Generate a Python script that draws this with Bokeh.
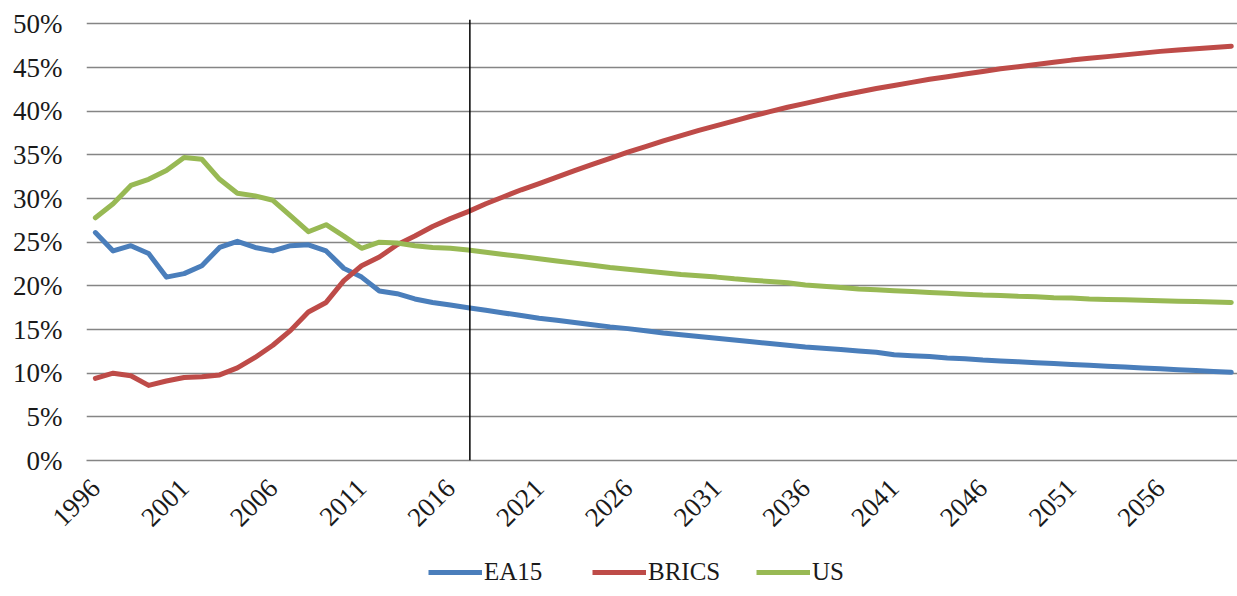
from bokeh.plotting import figure
from bokeh.models import Range1d, FixedTicker, Span, Legend, LegendItem
from bokeh.layouts import column
from bokeh.embed import file_html
from bokeh.resources import INLINE

years = list(range(1996, 2061))

ea15 = [26.1, 24.0, 24.6, 23.7, 21.0, 21.4, 22.3, 24.4, 25.1, 24.4, 24.0, 24.6, 24.7, 24.0, 22.0, 21.0,
        19.4, 19.1, 18.5, 18.1, 17.8,
        17.5, 17.2, 16.9, 16.6, 16.3, 16.05, 15.8, 15.55, 15.3, 15.1, 14.85, 14.6, 14.4, 14.2, 14.0,
        13.8, 13.6, 13.4, 13.2, 13.0, 12.85, 12.7, 12.55, 12.4, 12.1, 12.0, 11.9, 11.75, 11.65, 11.5,
        11.4, 11.3, 11.2, 11.1, 11.0, 10.9, 10.8, 10.7, 10.6, 10.5, 10.4, 10.3, 10.2, 10.1]

brics = [9.4, 10.0, 9.7, 8.6, 9.1, 9.5, 9.6, 9.8, 10.6, 11.8, 13.2, 14.9, 17.0, 18.1, 20.6, 22.3,
         23.3, 24.7, 25.7, 26.8, 27.7,
         28.5, 29.4, 30.2, 31.0, 31.7, 32.45, 33.2, 33.9, 34.6, 35.3, 35.95, 36.6, 37.2, 37.8, 38.35,
         38.9, 39.45, 39.95, 40.45, 40.9, 41.35, 41.8, 42.2, 42.6, 42.95, 43.3, 43.65, 43.95, 44.25,
         44.55, 44.85, 45.1, 45.35, 45.6, 45.85, 46.05, 46.25, 46.45, 46.65, 46.85, 47.0, 47.15, 47.3, 47.45]

us = [27.8, 29.4, 31.5, 32.2, 33.2, 34.7, 34.5, 32.2, 30.6, 30.3, 29.8, 28.0, 26.2, 27.0, 25.7, 24.3,
      25.0, 24.9, 24.6, 24.4, 24.3,
      24.1, 23.85, 23.6, 23.35, 23.1, 22.85, 22.6, 22.35, 22.1, 21.9, 21.7, 21.5, 21.3, 21.15, 21.0,
      20.8, 20.65, 20.5, 20.35, 20.1, 19.95, 19.8, 19.65, 19.55, 19.45, 19.35, 19.25, 19.15, 19.05,
      18.95, 18.9, 18.8, 18.75, 18.65, 18.6, 18.5, 18.45, 18.4, 18.35, 18.3, 18.25, 18.2, 18.15, 18.1]

series_names = ["EA15", "BRICS", "US"]
x_tick_years = list(range(1996, 2060, 5))
y_ticks = list(range(0, 55, 5))
split_year = 2017.1

colors = ["#4A7EBB", "#BE4B48", "#98B954"]
FONT = "Liberation Serif"
TEXT = "#1a1a1a"
series = [ea15, brics, us]

p = figure(width=1237, height=548, output_backend="svg", toolbar_location=None,
           x_range=Range1d(1995.5, 2060.35), y_range=Range1d(0, 50.5),
           min_border_left=86, min_border_right=0, min_border_top=19, min_border_bottom=88)
p.outline_line_color = None
p.background_fill_color = "white"
p.border_fill_color = "white"

for vals, c in zip(series, colors):
    p.line(years, vals, line_color=c, line_width=5, line_join="round", line_cap="round")

p.add_layout(Span(location=split_year, dimension="height", line_color="black", line_width=1.5))

# x axis
p.xaxis.ticker = FixedTicker(ticks=x_tick_years)
p.xaxis.major_label_overrides = {y: str(y) for y in x_tick_years}
p.xaxis.major_label_orientation = 0.785398
p.xaxis.major_tick_line_color = None
p.xaxis.major_tick_out = 0
p.xaxis.major_tick_in = 0
p.xaxis.minor_tick_line_color = None
p.xaxis.axis_line_color = "#858585"
p.xaxis.axis_line_width = 1.6
p.xaxis.major_label_text_font = FONT
p.xaxis.major_label_text_font_size = "27px"
p.xaxis.major_label_text_color = TEXT
p.xaxis.major_label_standoff = 23

# y axis
p.yaxis.ticker = FixedTicker(ticks=y_ticks)
p.yaxis.major_label_overrides = {v: f"{v}%" for v in y_ticks}
p.yaxis.major_tick_line_color = None
p.yaxis.major_tick_out = 0
p.yaxis.major_tick_in = 0
p.yaxis.minor_tick_line_color = None
p.yaxis.axis_line_color = None
p.yaxis.major_label_text_font = FONT
p.yaxis.major_label_text_font_size = "27px"
p.yaxis.major_label_text_color = TEXT
p.yaxis.major_label_standoff = 24

p.xgrid.grid_line_color = None
p.ygrid.ticker = FixedTicker(ticks=y_ticks)
p.ygrid.grid_line_color = "#858585"
p.ygrid.grid_line_width = 1.4

# legend strip below the chart (series drawn out of its view, only the legend shows)
lp = figure(width=1237, height=48, output_backend="svg", toolbar_location=None,
            x_axis_type=None, y_axis_type=None, x_range=Range1d(0, 1), y_range=Range1d(0, 1),
            min_border_left=86, min_border_right=0, min_border_top=0, min_border_bottom=0)
lp.outline_line_color = None
lp.xgrid.grid_line_color = None
lp.ygrid.grid_line_color = None
leg_renderers = [lp.line(years, vals, line_color=c, line_width=5) for vals, c in zip(series, colors)]
legend = Legend(items=[LegendItem(label=n, renderers=[r]) for n, r in zip(series_names, leg_renderers)],
                location=(342, 10), orientation="horizontal",
                glyph_width=54, glyph_height=26, label_standoff=2, label_width=108, spacing=0,
                padding=0, margin=0, border_line_color=None, background_fill_alpha=0,
                label_text_font=FONT, label_text_font_size="25px", label_text_color=TEXT)
lp.add_layout(legend, "center")

layout = column(p, lp, spacing=0)
open("out.html", "w").write(file_html(layout, INLINE))
